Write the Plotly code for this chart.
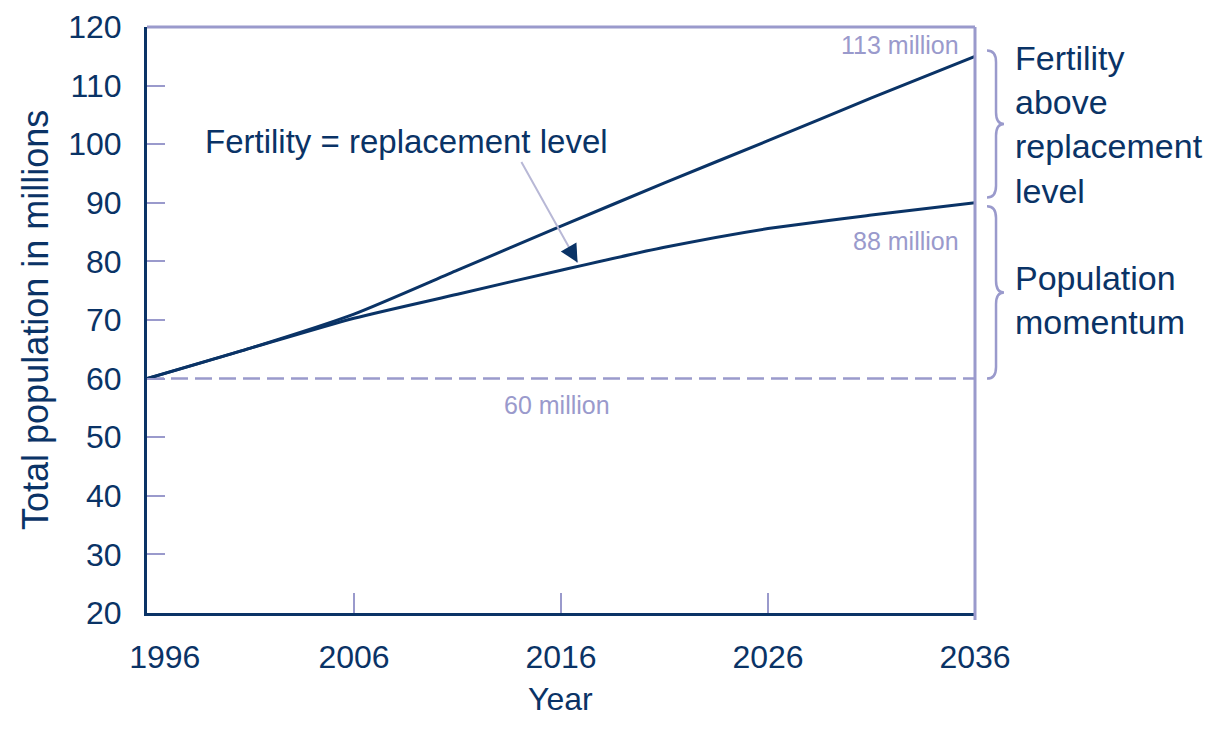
import plotly.graph_objects as go

# ---- data ----
years = [1996, 2001, 2006, 2011, 2016, 2021, 2026, 2031, 2036]
above_replacement = [60, 65.2, 71.0, 78.5, 86.0, 93.4, 100.6, 107.9, 115.0]
replacement_level = [60, 65.2, 70.3, 74.4, 78.5, 82.4, 85.6, 87.9, 90.0]
baseline_value = 60
x_ticks = [1996, 2006, 2016, 2026, 2036]
x_tick_labels = ["\u00a0\u00a0\u00a0\u00a01996", "2006", "2016", "2026", "2036"]
y_ticks = [20, 30, 40, 50, 60, 70, 80, 90, 100, 110, 120]
label_upper = "113 million"
label_lower = "88 million"
label_base = "60 million"

NAVY = "#0a3366"
LILAC = "#9a9acc"
FONT = "Liberation Sans, Arial, sans-serif"

fig = go.Figure()

fig.add_trace(go.Scatter(x=[years[0], years[-1]], y=[baseline_value, baseline_value],
                         mode="lines", line=dict(color=LILAC, width=2.5, dash="17px,7px"),
                         hoverinfo="skip", showlegend=False))
fig.add_trace(go.Scatter(x=years, y=replacement_level, mode="lines",
                         line=dict(color=NAVY, width=3, shape="spline", smoothing=0.6),
                         showlegend=False))
fig.add_trace(go.Scatter(x=years, y=above_replacement, mode="lines",
                         line=dict(color=NAVY, width=3, shape="spline", smoothing=0.6),
                         showlegend=False))

# frame (top and right)
fig.add_shape(type="line", xref="paper", yref="paper", x0=0, x1=1, y0=1, y1=1,
              line=dict(color=LILAC, width=3))
fig.add_shape(type="line", xref="paper", yref="paper", x0=1, x1=1, y0=-0.012, y1=1,
              line=dict(color=LILAC, width=3))


def brace(top, bottom, gap=0.6):
    x0, x1, x2 = 1.0145, 1.0254, 1.035
    t = top + gap
    b = bottom + gap
    mid = (t + b) / 2
    d = 2.0
    return (f"M {x0},{t} Q {x1},{t} {x1},{t - d} L {x1},{mid + d} "
            f"Q {x1},{mid} {x2},{mid} Q {x1},{mid} {x1},{mid - d} "
            f"L {x1},{b + d} Q {x1},{b} {x0},{b}")


fig.add_shape(type="path", xref="paper", yref="y",
              path=brace(above_replacement[-1] + 0.4, replacement_level[-1] + 0.3),
              line=dict(color=LILAC, width=2.5))
fig.add_shape(type="path", xref="paper", yref="y",
              path=brace(replacement_level[-1] - 1.2, baseline_value - 0.6),
              line=dict(color=LILAC, width=2.5))

ann = []
ann.append(dict(text="Fertility = replacement level", x=1998.7, y=100.4, xref="x", yref="y",
                xanchor="left", yanchor="middle", showarrow=False,
                font=dict(size=33, color=NAVY, family=FONT)))
# arrow line
ann.append(dict(text="", x=2016.8, y=79.8, xref="x", yref="y", ax=-57, ay=-102,
                showarrow=True, arrowhead=0, arrowwidth=2, arrowcolor="#b8b8d6"))
# arrow head
ann.append(dict(text="", x=2016.8, y=79.8, xref="x", yref="y", ax=-8, ay=-14,
                showarrow=True, arrowhead=2, arrowsize=1.2, arrowwidth=3, arrowcolor=NAVY))
ann.append(dict(text=label_upper, x=2035.3, y=116.9, xref="x", yref="y",
                xanchor="right", yanchor="middle", showarrow=False,
                font=dict(size=25, color=LILAC, family=FONT)))
ann.append(dict(text=label_lower, x=2035.3, y=83.5, xref="x", yref="y",
                xanchor="right", yanchor="middle", showarrow=False,
                font=dict(size=25, color=LILAC, family=FONT)))
ann.append(dict(text=label_base, x=2015.8, y=55.5, xref="x", yref="y",
                xanchor="center", yanchor="middle", showarrow=False,
                font=dict(size=25, color=LILAC, family=FONT)))
ann.append(dict(text="Fertility<br>above<br>replacement<br>level", x=1.0459, y=0.8328,
                xref="paper", yref="paper", xanchor="left", yanchor="middle", align="left",
                showarrow=False, font=dict(size=34, color=NAVY, family=FONT)))
ann.append(dict(text="Population<br>momentum", x=1.0459, y=0.534,
                xref="paper", yref="paper", xanchor="left", yanchor="middle", align="left",
                showarrow=False, font=dict(size=34, color=NAVY, family=FONT)))
ann.append(dict(text="Total population in millions", x=-0.1353, y=0.5, textangle=-90,
                xref="paper", yref="paper", xanchor="center", yanchor="middle",
                showarrow=False, font=dict(size=36, color=NAVY, family=FONT)))
ann.append(dict(text="Year", x=0.499, y=-0.147, xref="paper", yref="paper",
                xanchor="center", yanchor="middle", showarrow=False,
                font=dict(size=32, color=NAVY, family=FONT)))

# page body has an 8px margin: compensate so the plot area lands at the reference position
fig.update_layout(
    width=1204, height=715,
    margin=dict(l=139, r=237, t=19, b=110, autoexpand=False),
    plot_bgcolor="white", paper_bgcolor="white",
    annotations=ann,
    showlegend=False,
    xaxis=dict(range=[1996, 2036], tickvals=x_ticks, ticktext=x_tick_labels,
               ticks="inside", ticklen=20, tickwidth=2, tickcolor=LILAC, automargin=False,
               showline=True, linecolor=NAVY, linewidth=3, showgrid=False, zeroline=False,
               tickfont=dict(size=32, color=NAVY, family=FONT), ticklabelstandoff=14),
    yaxis=dict(range=[20, 120], tickvals=y_ticks,
               ticks="inside", ticklen=18, tickwidth=2, tickcolor=LILAC, automargin=False,
               showline=True, linecolor=NAVY, linewidth=3, showgrid=False, zeroline=False,
               tickfont=dict(size=32, color=NAVY, family=FONT), ticklabelstandoff=16),
)

fig.write_html("out.html")
